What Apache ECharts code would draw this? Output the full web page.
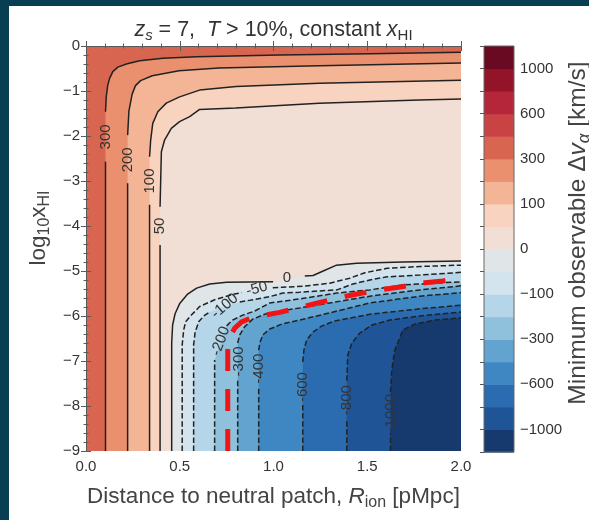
<!DOCTYPE html>
<html><head><meta charset="utf-8">
<script src="https://cdn.jsdelivr.net/npm/echarts@6/dist/echarts.min.js"></script>
<style>html,body{margin:0;padding:0;background:#fff}#c{width:589px;height:520px}</style>
</head><body><div id="c"></div>
<script>
// ---- data (data units: x = R_ion [pMpc], y = log10 xHI) ----
const levels = [-1200,-1000,-800,-600,-400,-300,-200,-100,-50,0,50,100,200,300,400,600,800,1000,1200];
const cbarTickLevels = [1000,600,300,100,0,-100,-300,-600,-1000];
const xTickLabels = ['0.0','0.5','1.0','1.5','2.0'];
const yTickLabels = ['0','−1','−2','−3','−4','−5','−6','−7','−8','−9'];

// contour lines (null = gap where the inline label sits)
const c300 = [[0.104,-9],[0.104,-2.57],null,[0.104,-1.46],[0.108,-1.13],[0.116,-0.87],[0.126,-0.72],[0.143,-0.57],[0.17,-0.47],[0.215,-0.40],[0.286,-0.33],[0.41,-0.27],[0.589,-0.24],[1.033,-0.20],[1.514,-0.17],[2.0,-0.14]];
const c200 = [[0.222,-9],[0.222,-3.05],null,[0.222,-1.98],[0.229,-1.44],[0.246,-1.07],[0.264,-0.88],[0.291,-0.77],[0.353,-0.66],[0.496,-0.55],[0.709,-0.49],[1.243,-0.44],[2.0,-0.38]];
const c100 = [[0.339,-9],[0.339,-3.53],null,[0.339,-2.46],[0.345,-2.09],[0.356,-1.72],[0.383,-1.46],[0.428,-1.27],[0.499,-1.13],[0.606,-0.98],[0.801,-0.90],[1.243,-0.83],[2.0,-0.76]];
const c50 = [[0.395,-9],[0.395,-4.42],null,[0.395,-3.57],[0.402,-2.35],[0.419,-2.09],[0.455,-1.83],[0.499,-1.68],[0.553,-1.57],[0.606,-1.41],[0.798,-1.38],[1.243,-1.27],[1.777,-1.20],[2.0,-1.18]];
const c0 = [[0.457,-9],[0.457,-6.6],[0.462,-6.2],[0.475,-5.95],[0.5,-5.72],[0.54,-5.52],[0.59,-5.38],[0.66,-5.29],[0.75,-5.25],[0.998,-5.24],null,[1.167,-5.11],[1.211,-5.10],[1.265,-5.0],[1.336,-4.87],[1.443,-4.83],[1.692,-4.80],[2.0,-4.78]];
const cm50 = [[0.513,-9],[0.513,-6.64],[0.521,-6.31],[0.531,-6.13],[0.562,-5.98],[0.606,-5.79],[0.686,-5.64],[0.793,-5.51],[0.83,-5.48],null,[0.996,-5.37],[1.049,-5.36],[1.156,-5.34],[1.30,-5.27],[1.407,-5.16],[1.487,-5.04],[1.605,-4.94],[1.781,-4.90],[2.0,-4.87]];
const cm100 = [[0.574,-9],[0.574,-6.64],[0.582,-6.36],[0.601,-6.13],[0.628,-6.0],[0.659,-5.91],null,[0.82,-5.69],[0.98,-5.57],[1.049,-5.49],[1.14,-5.47],[1.338,-5.42],[1.423,-5.29],[1.514,-5.20],[1.605,-5.13],[1.781,-5.09],[2.0,-5.03]];
const cm200 = [[0.686,-9],[0.686,-6.98],null,[0.75,-6.22],[0.782,-6.09],[0.836,-5.98],[0.9,-5.89],[0.98,-5.71],[1.14,-5.62],[1.338,-5.49],[1.514,-5.42],[1.69,-5.31],[2.0,-5.24]];
const cm300 = [[0.809,-9],[0.809,-7.42],null,[0.809,-6.6],[0.82,-6.42],[0.846,-6.24],[0.889,-6.07],[0.953,-5.96],[1.033,-5.89],[1.14,-5.82],[1.3,-5.71],[1.514,-5.56],[1.781,-5.42],[2.0,-5.33]];
const cm400 = [[0.921,-9],[0.921,-7.58],null,[0.921,-6.76],[0.927,-6.6],[0.943,-6.42],[0.98,-6.29],[1.044,-6.18],[1.14,-6.09],[1.3,-5.93],[1.514,-5.71],[1.781,-5.56],[2.0,-5.48]];
const cm600 = [[1.156,-9],[1.156,-7.98],null,[1.156,-7.02],[1.162,-6.76],[1.177,-6.53],[1.21,-6.36],[1.258,-6.22],[1.327,-6.11],[1.514,-5.96],[1.781,-5.84],[2.0,-5.76]];
const cm800 = [[1.391,-9],[1.391,-8.27],null,[1.391,-7.44],[1.396,-6.87],[1.418,-6.6],[1.46,-6.38],[1.525,-6.2],[1.621,-6.09],[1.781,-6.0],[2.0,-5.91]];
const cm1000 = [[1.624,-9],[1.624,-8.6],null,[1.624,-7.69],[1.631,-7.2],[1.647,-6.76],[1.69,-6.31],[1.754,-6.18],[1.861,-6.09],[2.0,-6.04]];
const redLine = [[0.756,-9],[0.756,-6.76],[0.766,-6.47],[0.793,-6.27],[0.83,-6.13],[0.884,-6.04],[0.953,-5.98],[1.033,-5.92],[1.14,-5.81],[1.247,-5.70],[1.365,-5.58],[1.46,-5.50],[1.583,-5.41],[1.685,-5.35],[1.807,-5.26],[1.904,-5.22],[2.0,-5.16]];

// inline contour labels: [x, y, text]
const contourLabels = [[0.104,-2.02,'300'],[0.222,-2.53,'200'],[0.339,-3.0,'100'],[0.395,-4.0,'50'],
  [1.071,-5.16,'0'],[0.911,-5.40,'-50'],[0.74,-5.78,'-100'],[0.718,-6.56,'-200'],[0.817,-7.01,'-300'],
  [0.924,-7.17,'-400'],[1.156,-7.58,'-600'],[1.39,-7.87,'-800'],[1.624,-8.16,'-1000']];

// ---- styling ----
const labelAngles = [90,90,90,90,0,15,40,70,90,90,90,90,90];
const bandColors = ['#173a6e','#1f5596','#2b6cb0','#3e87c2','#62a3cf','#8fc0dc','#b5d5e8','#d3e4ee','#e0e5e7',
  '#f1dfd5','#f8d4c0','#f3b596','#ea906f','#d8654f','#c94244','#b5263a','#931428','#6a0a22'];

const contours = [
  {pts:c300, lvl:300},{pts:c200, lvl:200},{pts:c100, lvl:100},{pts:c50, lvl:50},{pts:c0, lvl:0},
  {pts:cm50, lvl:-50},{pts:cm100, lvl:-100},{pts:cm200, lvl:-200},{pts:cm300, lvl:-300},
  {pts:cm400, lvl:-400},{pts:cm600, lvl:-600},{pts:cm800, lvl:-800},{pts:cm1000, lvl:-1000}];

const fillLayers = [{pts:null, band:levels.indexOf(0)}];
[50,100,200,300].forEach(l => fillLayers.push({pts:contours.find(c=>c.lvl===l).pts, band:levels.indexOf(l), side:'tl'}));
[0,-50,-100,-200,-300,-400,-600,-800,-1000].forEach(l => fillLayers.push({pts:contours.find(c=>c.lvl===l).pts, band:levels.indexOf(l)-1, side:'br'}));

const X0=0, X1=2, Y0=-9, Y1=0;
const FONT = '"Liberation Sans", Arial, Helvetica, sans-serif';
const minus = v => (v<0 ? '−'+Math.abs(v) : String(v));
function segments(arr){ const out=[[]]; arr.forEach(p=>{ if(p===null) out.push([]); else out[out.length-1].push(p); }); return out.filter(s=>s.length>1); }

const series = [];
series.push({
  type:'custom', xAxisIndex:0, yAxisIndex:0, clip:true, silent:true, z:1,
  data: fillLayers.map(()=>[0,0]),
  renderItem(params, api){
    const L = fillLayers[params.dataIndex];
    let poly;
    if(!L.pts) poly = [[X0,Y1],[X1,Y1],[X1,Y0],[X0,Y0]];
    else {
      const p = L.pts.filter(Boolean);
      poly = L.side==='tl' ? p.concat([[X1,Y1],[X0,Y1],[X0,Y0]]) : p.concat([[X1,Y0]]);
    }
    return {type:'polygon', shape:{points: poly.map(q=>api.coord(q))}, style:{fill: bandColors[L.band], stroke:null}};
  }
});
contours.forEach(c => {
  segments(c.pts).forEach(seg => series.push({
    type:'line', xAxisIndex:0, yAxisIndex:0, data:seg, symbol:'none', silent:true, z:3,
    lineStyle:{color:'#222', width:1.5, type: c.lvl<0 ? [5.5,2.6] : 'solid'}
  }));
});
series.push({
  type:'line', xAxisIndex:0, yAxisIndex:0, data:redLine, symbol:'none', silent:true, z:4,
  lineStyle:{color:'#f21414', width:5, type:[22,18], cap:'butt'}
});
series.push({
  type:'custom', xAxisIndex:0, yAxisIndex:0, silent:true, z:5,
  data: contourLabels.map(l=>[l[0],l[1]]),
  renderItem(params, api){
    const l = contourLabels[params.dataIndex];
    const p = api.coord([l[0],l[1]]);
    return {type:'text', x:p[0], y:p[1], rotation: labelAngles[params.dataIndex]*Math.PI/180,
      style:{text:l[2], fill:'#333', font:'15px '+FONT, align:'center', verticalAlign:'middle'}};
  }
});
// colorbar
series.push({
  type:'custom', xAxisIndex:2, yAxisIndex:2, silent:true, z:1,
  data: bandColors.map((_,i)=>[0,i]),
  renderItem(params, api){
    const i = params.dataIndex;
    const a = api.coord([0,i]), b = api.coord([1,i+1]);
    return {type:'rect', shape:{x:a[0], y:b[1], width:b[0]-a[0], height:a[1]-b[1]+0.6}, style:{fill:bandColors[i]}};
  }
});
series.push({
  type:'custom', xAxisIndex:2, yAxisIndex:2, silent:true, z:6,
  data:[[0,0]],
  renderItem(params, api){
    const a = api.coord([0,0]), b = api.coord([1,levels.length-1]);
    return {type:'rect', shape:{x:a[0], y:b[1], width:b[0]-a[0], height:a[1]-b[1]}, style:{fill:null, stroke:'#666', lineWidth:1}};
  }
});

const axisCommon = {
  z:10, axisLine:{show:true, lineStyle:{color:'#5a5a5a', width:1}},
  axisTick:{show:true, inside:true, length:5, lineStyle:{color:'#5a5a5a'}},
  minorTick:{show:true, splitNumber:5, length:2.5, lineStyle:{color:'#5a5a5a'}},
  splitLine:{show:false}
};
function richSet(col, size){
  const s = Math.round(size*0.7), pad = Math.round(size*0.55);
  return {
    n:{fontSize:size, fontFamily:FONT, fill:col},
    i:{fontSize:size, fontFamily:FONT, fill:col, fontStyle:'italic'},
    sub:{fontSize:s, fontFamily:FONT, fill:col, padding:[pad,0,0,0]},
    isub:{fontSize:s, fontFamily:FONT, fill:col, fontStyle:'italic', padding:[pad,0,0,0]}
  };
}

const option = {
  animation:false,
  backgroundColor:'#fff',
  grid:[{left:86, top:46, right:128, bottom:69}, {left:484, top:46, width:30, height:406}],
  xAxis:[
    Object.assign({}, axisCommon, {type:'value', gridIndex:0, min:0, max:2, interval:0.5, position:'bottom',
      axisLabel:{formatter:(v)=>xTickLabels[Math.round(v/0.5)], fontSize:15, color:'#333', fontFamily:FONT, margin:8}}),
    Object.assign({}, axisCommon, {type:'value', gridIndex:0, min:0, max:2, interval:0.5, position:'top', axisLabel:{show:false}}),
    {type:'value', gridIndex:1, min:0, max:1, show:false}
  ],
  yAxis:[
    Object.assign({}, axisCommon, {type:'value', gridIndex:0, min:-9, max:0, interval:1, position:'left',
      axisLabel:{formatter:(v)=>yTickLabels[Math.round(-v)], fontSize:15, color:'#333', fontFamily:FONT, margin:6}}),
    Object.assign({}, axisCommon, {type:'value', gridIndex:0, min:-9, max:0, interval:1, position:'right', axisLabel:{show:false}}),
    {type:'value', gridIndex:1, min:0, max:levels.length-1, interval:1, position:'right', z:10,
      axisLine:{show:false}, splitLine:{show:false},
      axisTick:{show:true, inside:true, length:4, lineStyle:{color:'#555'}},
      axisLabel:{fontSize:15, color:'#333', fontFamily:FONT, margin:6,
        formatter:(v)=>{ const lv = levels[Math.round(v)]; return cbarTickLevels.includes(lv) ? minus(lv) : ''; }}}
  ],
  graphic:[
    {type:'rect', shape:{x:0, y:0, width:9, height:520}, style:{fill:'#073e52'}, z:100},
    {type:'rect', shape:{x:0, y:0, width:589, height:6}, style:{fill:'#073e52'}, z:100},
    {type:'text', x:273.5, y:30, z:100, style:{
      text:'{i|z}{isub|s}{n| = 7,  }{i|T}{n| > 10%, constant }{i|x}{sub|HI}',
      align:'center', verticalAlign:'middle', rich:richSet('#333', 21.5)}},
    {type:'text', x:273.5, y:497, z:100, style:{
      text:'{n|Distance to neutral patch, }{i|R}{sub|ion}{n| [pMpc]}',
      align:'center', verticalAlign:'middle', rich:richSet('#444', 22.5)}},
    {type:'text', x:39, y:228, z:100, rotation:Math.PI/2, style:{
      text:'{n|log}{sub|10}{n|x}{sub|HI}',
      align:'center', verticalAlign:'middle', rich:richSet('#444', 22.5)}},
    {type:'text', x:578, y:233, z:100, rotation:Math.PI/2, style:{
      text:'{n|Minimum observable Δ}{i|v}{isub|α}{n| [km/s]}',
      align:'center', verticalAlign:'middle', rich:richSet('#444', 24.5)}}
  ],
  series
};
const chart = echarts.init(document.getElementById('c'), null, {renderer:'canvas'});
chart.setOption(option);
</script>
</body></html>
